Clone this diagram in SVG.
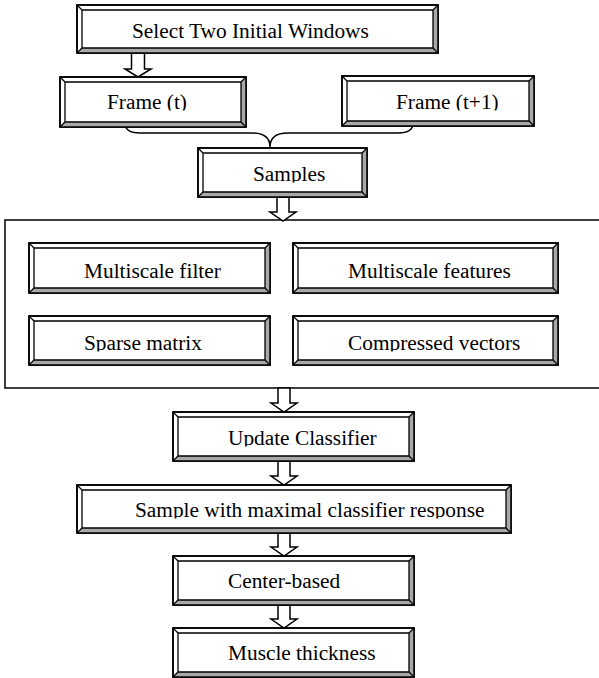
<svg xmlns="http://www.w3.org/2000/svg" width="599" height="678" viewBox="0 0 599 678">
<style>
  .bg{fill:#ffffff}
  .outer{fill:#ffffff;stroke:#000;stroke-width:1.6}
  .shade{fill:#a8a8a8;stroke:none}
  .edge{fill:none;stroke:#000;stroke-width:1.3}
  .frame{fill:none;stroke:#000;stroke-width:1.5}
  .lbl{font-family:"Liberation Serif","Times New Roman",serif;font-size:21.33px;fill:#000}
  .arrow{fill:#ffffff;stroke:#000;stroke-width:1.5;stroke-linejoin:miter}
  .brace{fill:none;stroke:#000;stroke-width:1.5}
</style>
<defs>
  <clipPath id="baseclip" clipPathUnits="objectBoundingBox">
    <rect x="-0.1" y="-0.2" width="1.2" height="1.05"/>
  </clipPath>
</defs>
<rect class="bg" x="0" y="0" width="599" height="678"/>

<g id="container">
  <rect class="frame" x="5" y="220" width="602" height="168"/>
</g>

<g id="connectors">
  <path class="brace" d="M125,123 Q125,133 140,133 L252,133 Q270,133 270,147 Q270,133 288,133 L398,133 Q413,133 413,123"/>
  <polygon class="arrow" points="131.5,53 144.5,53 144.5,69 151,69 138,77 125,69 131.5,69"/>
  <polygon class="arrow" points="277,197 289,197 289,212 296,212 283,221 270,212 277,212"/>
  <polygon class="arrow" points="278,388 290,388 290,403 297,403 284,412 271,403 278,403"/>
  <polygon class="arrow" points="278,461 290,461 290,476 297,476 284,485 271,476 278,476"/>
  <polygon class="arrow" points="278,533 290,533 290,547 297,547 284,556 271,547 278,547"/>
  <polygon class="arrow" points="278,605 290,605 290,619 297,619 284,628 271,619 278,619"/>
</g>

<g id="n-select">
  <rect class="outer" x="77" y="5" width="361" height="48"/>
  <polygon class="shade" points="438,5 438,53 433,48 433,10"/>
  <polygon class="shade" points="77,53 438,53 433,48 82,48"/>
  <path class="edge" d="M82,10 H433 V48 H82 Z M77,5 L82,10 M438,5 L433,10 M77,53 L82,48 M438,53 L433,48"/>
  <rect class="frame" x="77" y="5" width="361" height="48"/>
  <text class="lbl" x="132" y="38" clip-path="url(#baseclip)">Select Two Initial Windows</text>
</g>

<g id="n-frame-t">
  <rect class="outer" x="60" y="77" width="186" height="50"/>
  <polygon class="shade" points="246,77 246,127 241,122 241,82"/>
  <polygon class="shade" points="60,127 246,127 241,122 65,122"/>
  <path class="edge" d="M65,82 H241 V122 H65 Z M60,77 L65,82 M246,77 L241,82 M60,127 L65,122 M246,127 L241,122"/>
  <rect class="frame" x="60" y="77" width="186" height="50"/>
  <text class="lbl" x="107" y="109" clip-path="url(#baseclip)">Frame (t)</text>
</g>

<g id="n-frame-t1">
  <rect class="outer" x="342" y="76" width="192" height="50"/>
  <polygon class="shade" points="534,76 534,126 529,121 529,81"/>
  <polygon class="shade" points="342,126 534,126 529,121 347,121"/>
  <path class="edge" d="M347,81 H529 V121 H347 Z M342,76 L347,81 M534,76 L529,81 M342,126 L347,121 M534,126 L529,121"/>
  <rect class="frame" x="342" y="76" width="192" height="50"/>
  <text class="lbl" x="396" y="109" clip-path="url(#baseclip)">Frame (t+1)</text>
</g>

<g id="n-samples">
  <rect class="outer" x="198" y="148" width="169" height="49"/>
  <polygon class="shade" points="367,148 367,197 362,192 362,153"/>
  <polygon class="shade" points="198,197 367,197 362,192 203,192"/>
  <path class="edge" d="M203,153 H362 V192 H203 Z M198,148 L203,153 M367,148 L362,153 M198,197 L203,192 M367,197 L362,192"/>
  <rect class="frame" x="198" y="148" width="169" height="49"/>
  <text class="lbl" x="253" y="181" clip-path="url(#baseclip)">Samples</text>
</g>

<g id="n-ms-filter">
  <rect class="outer" x="29" y="243" width="241" height="50"/>
  <polygon class="shade" points="270,243 270,293 265,288 265,248"/>
  <polygon class="shade" points="29,293 270,293 265,288 34,288"/>
  <path class="edge" d="M34,248 H265 V288 H34 Z M29,243 L34,248 M270,243 L265,248 M29,293 L34,288 M270,293 L265,288"/>
  <rect class="frame" x="29" y="243" width="241" height="50"/>
  <text class="lbl" x="84" y="278" clip-path="url(#baseclip)">Multiscale filter</text>
</g>

<g id="n-ms-features">
  <rect class="outer" x="293" y="243" width="265" height="50"/>
  <polygon class="shade" points="558,243 558,293 553,288 553,248"/>
  <polygon class="shade" points="293,293 558,293 553,288 298,288"/>
  <path class="edge" d="M298,248 H553 V288 H298 Z M293,243 L298,248 M558,243 L553,248 M293,293 L298,288 M558,293 L553,288"/>
  <rect class="frame" x="293" y="243" width="265" height="50"/>
  <text class="lbl" x="348" y="278" clip-path="url(#baseclip)">Multiscale features</text>
</g>

<g id="n-sparse">
  <rect class="outer" x="29" y="316" width="241" height="49"/>
  <polygon class="shade" points="270,316 270,365 265,360 265,321"/>
  <polygon class="shade" points="29,365 270,365 265,360 34,360"/>
  <path class="edge" d="M34,321 H265 V360 H34 Z M29,316 L34,321 M270,316 L265,321 M29,365 L34,360 M270,365 L265,360"/>
  <rect class="frame" x="29" y="316" width="241" height="49"/>
  <text class="lbl" x="84" y="350" clip-path="url(#baseclip)">Sparse matrix</text>
</g>

<g id="n-compressed">
  <rect class="outer" x="293" y="316" width="265" height="49"/>
  <polygon class="shade" points="558,316 558,365 553,360 553,321"/>
  <polygon class="shade" points="293,365 558,365 553,360 298,360"/>
  <path class="edge" d="M298,321 H553 V360 H298 Z M293,316 L298,321 M558,316 L553,321 M293,365 L298,360 M558,365 L553,360"/>
  <rect class="frame" x="293" y="316" width="265" height="49"/>
  <text class="lbl" x="348" y="350" clip-path="url(#baseclip)">Compressed vectors</text>
</g>

<g id="n-update">
  <rect class="outer" x="173" y="412" width="241" height="49"/>
  <polygon class="shade" points="414,412 414,461 409,456 409,417"/>
  <polygon class="shade" points="173,461 414,461 409,456 178,456"/>
  <path class="edge" d="M178,417 H409 V456 H178 Z M173,412 L178,417 M414,412 L409,417 M173,461 L178,456 M414,461 L409,456"/>
  <rect class="frame" x="173" y="412" width="241" height="49"/>
  <text class="lbl" x="228" y="445" clip-path="url(#baseclip)">Update Classifier</text>
</g>

<g id="n-sample-max">
  <rect class="outer" x="77" y="485" width="434" height="48"/>
  <polygon class="shade" points="511,485 511,533 506,528 506,490"/>
  <polygon class="shade" points="77,533 511,533 506,528 82,528"/>
  <path class="edge" d="M82,490 H506 V528 H82 Z M77,485 L82,490 M511,485 L506,490 M77,533 L82,528 M511,533 L506,528"/>
  <rect class="frame" x="77" y="485" width="434" height="48"/>
  <text class="lbl" x="135" y="517" clip-path="url(#baseclip)">Sample with maximal classifier response</text>
</g>

<g id="n-center">
  <rect class="outer" x="173" y="556" width="241" height="49"/>
  <polygon class="shade" points="414,556 414,605 409,600 409,561"/>
  <polygon class="shade" points="173,605 414,605 409,600 178,600"/>
  <path class="edge" d="M178,561 H409 V600 H178 Z M173,556 L178,561 M414,556 L409,561 M173,605 L178,600 M414,605 L409,600"/>
  <rect class="frame" x="173" y="556" width="241" height="49"/>
  <text class="lbl" x="228" y="588" clip-path="url(#baseclip)">Center-based</text>
</g>

<g id="n-muscle">
  <rect class="outer" x="173" y="628" width="241" height="49"/>
  <polygon class="shade" points="414,628 414,677 409,672 409,633"/>
  <polygon class="shade" points="173,677 414,677 409,672 178,672"/>
  <path class="edge" d="M178,633 H409 V672 H178 Z M173,628 L178,633 M414,628 L409,633 M173,677 L178,672 M414,677 L409,672"/>
  <rect class="frame" x="173" y="628" width="241" height="49"/>
  <text class="lbl" x="228" y="660" clip-path="url(#baseclip)">Muscle thickness</text>
</g>
</svg>
